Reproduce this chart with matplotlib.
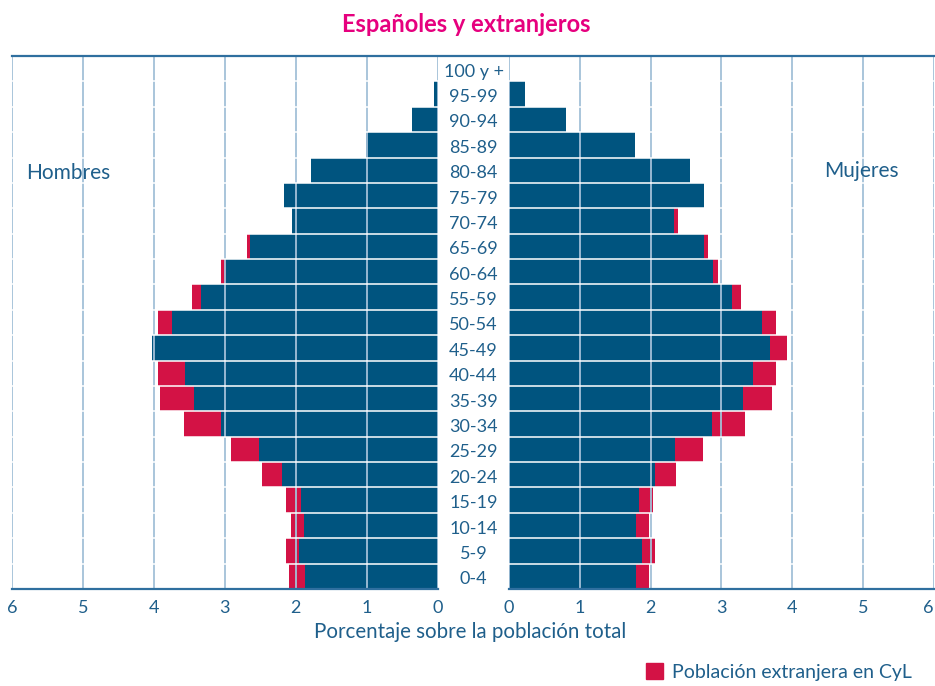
import matplotlib
matplotlib.use("agg")
import matplotlib.pyplot as plt
from matplotlib.patches import Patch
from matplotlib.lines import Line2D

plt.rcParams["font.family"] = ["Lato", "DejaVu Sans"]

ages = ["0-4", "5-9", "10-14", "15-19", "20-24", "25-29", "30-34", "35-39",
        "40-44", "45-49", "50-54", "55-59", "60-64", "65-69", "70-74",
        "75-79", "80-84", "85-89", "90-94", "95-99", "100 y +"]

# Porcentaje sobre la poblacion total
hombres_esp = [1.87, 1.95, 1.89, 1.92, 2.20, 2.52, 3.06, 3.44, 3.56, 4.02, 3.74,
               3.33, 2.98, 2.64, 2.06, 2.17, 1.78, 1.01, 0.36, 0.05, 0.0]
hombres_total = [2.09, 2.14, 2.07, 2.14, 2.48, 2.92, 3.57, 3.92, 3.94, 4.02, 3.94,
                 3.46, 3.05, 2.69, 2.06, 2.17, 1.78, 1.01, 0.36, 0.05, 0.0]
mujeres_esp = [1.80, 1.88, 1.80, 1.84, 2.07, 2.35, 2.87, 3.31, 3.45, 3.69, 3.58,
               3.15, 2.89, 2.76, 2.33, 2.76, 2.56, 1.78, 0.81, 0.23, 0.0]
mujeres_total = [1.98, 2.07, 1.98, 2.04, 2.36, 2.74, 3.34, 3.72, 3.78, 3.93, 3.78,
                 3.28, 2.96, 2.81, 2.39, 2.76, 2.56, 1.78, 0.81, 0.23, 0.0]

azul = "#00547f"
rojo = "#d31245"
texto = "#1f5f8b"
grid_c = "#a3c0d8"
linea = "#2f6f9f"

fig = plt.figure(figsize=(9.35, 6.86), dpi=100)
ax_h = fig.add_axes([12 / 935, 1 - 589 / 686, 425.7 / 935, 533 / 686])
ax_m = fig.add_axes([509 / 935, 1 - 589 / 686, 424.5 / 935, 533 / 686])

y = list(range(len(ages)))
for ax, esp, tot in [(ax_h, hombres_esp, hombres_total),
                     (ax_m, mujeres_esp, mujeres_total)]:
    ax.barh(y, tot, height=1.0, color=rojo, zorder=2)
    ax.barh(y, esp, height=1.0, color=azul, zorder=3)
    ax.set_ylim(-0.5, len(ages) - 0.5)
    ax.set_yticks([])
    ax.set_xticks(range(7))
    ax.set_xticklabels([str(i) for i in range(7)])
    ax.tick_params(axis="x", length=0, pad=8, labelsize=13, labelcolor=texto)
    for v in range(7):
        ax.axvline(v, color=grid_c, lw=1.3, zorder=4)
    for b in range(len(ages)):
        ax.axhline(b - 0.5, color="white", lw=1.1, zorder=5)
    for s in ["left", "right", "top"]:
        ax.spines[s].set_visible(False)
    ax.spines["bottom"].set_color(linea)
    ax.spines["bottom"].set_linewidth(1.6)
    ax.spines["bottom"].set_zorder(6)

ax_h.set_xlim(6, 0)
ax_m.set_xlim(0, 6)
# el "6" de la derecha pegado al borde
ax_m.get_xticklabels()[-1].set_horizontalalignment("right")

# linea superior
fig.add_artist(Line2D([12 / 935, 933.5 / 935], [1 - 56 / 686, 1 - 56 / 686],
                      color=linea, lw=1.6))

# etiquetas de edad en el centro
for i, a in enumerate(ages):
    yc = 589 - (i + 0.5) * 533 / 21 + 3
    fig.text(473.5 / 935, 1 - yc / 686, a, ha="center", va="center",
             fontsize=13, color=texto)

fig.text(68 / 935, 1 - 173 / 686, "Hombres", ha="center", va="center",
         fontsize=15, color=texto)
fig.text(861 / 935, 1 - 171 / 686, "Mujeres", ha="center", va="center",
         fontsize=15, color=texto)

fig.text(466 / 935, 1 - 25 / 686, "Españoles y extranjeros", ha="center",
         va="center", fontsize=17, fontweight="bold", color="#e6007e")

fig.text(470 / 935, 1 - 632 / 686, "Porcentaje sobre la población total",
         ha="center", va="center", fontsize=14.8, color=texto)

fig.legend(handles=[Patch(color=rojo, label="Población extranjera en CyL")],
           loc="center right", bbox_to_anchor=(922 / 935, 1 - 672 / 686),
           frameon=False, fontsize=14, labelcolor=texto, handlelength=0.85,
           handleheight=0.85, handletextpad=0.5, borderpad=0)

fig.savefig("out.png", dpi=100)
